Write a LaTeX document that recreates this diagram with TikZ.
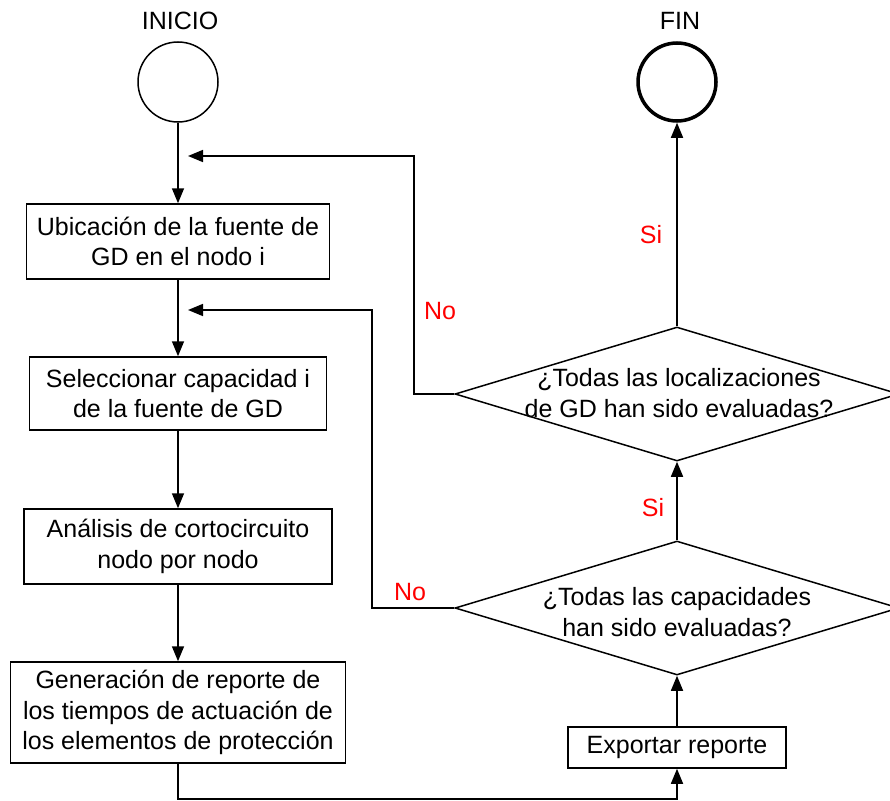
\documentclass[tikz,border=0pt]{standalone}
\usepackage{fontspec}
\setmainfont{Liberation Sans}
\usetikzlibrary{arrows.meta,shapes.geometric,calc}
\tikzset{
  procbox/.style={draw, line width=1.5pt, inner sep=0pt},
  txt/.style={font=\fontsize{25}{30.5}\selectfont, align=center, inner sep=0pt},
  redtxt/.style={font=\fontsize{25}{30}\selectfont, text=red, inner sep=0pt},
  flow/.style={line width=1.6pt, -{Triangle[length=15pt,width=12pt]}},
  decbox/.style={draw, diamond, line width=1.5pt, minimum width=444pt, minimum height=134pt, inner sep=0pt},
}
\begin{document}
\begin{tikzpicture}[x=1pt,y=-1pt]
\useasboundingbox (0,0) rectangle (890,800);
% start / end
\node[txt] (tIni) at (180,21) {INICIO};
\node[txt] (tFin) at (680,21) {FIN};
\node[draw, circle, line width=1.5pt, minimum size=80pt, inner sep=0pt] (ini) at (178,82) {};
\node[draw, circle, line width=3.5pt, minimum size=78pt, inner sep=0pt] (fin) at (677,82) {};
% process boxes
\node[procbox, minimum width=303pt, minimum height=75pt] (b1) at (178,241.5) {};
\node[txt] (b1t) at (b1.center) {Ubicación de la fuente de\\GD en el nodo i};
\node[procbox, minimum width=297pt, minimum height=73pt] (b2) at (178,393.5) {};
\node[txt] (b2t) at (b2.center) {Seleccionar capacidad i\\de la fuente de GD};
\node[procbox, minimum width=308pt, minimum height=75pt] (b3) at (178,546.5) {};
\node[txt] (b3t) at (b3.center) {Análisis de cortocircuito\\nodo por nodo};
\node[procbox, minimum width=335pt, minimum height=101pt] (b4) at (178,712.5) {};
\node[txt] (b4t) at (b4.center) {Generación de reporte de\\los tiempos de actuación de\\los elementos de protección};
\node[procbox, minimum width=218pt, minimum height=41pt] (b5) at (677,747.5) {};
\node[txt] (b5t) at (b5.center) {Exportar reporte};
% decisions
\node[decbox] (d1) at (677,394) {};
\node[txt] (d1t) at (679,393) {¿Todas las localizaciones\\de GD han sido evaluadas?};
\node[decbox] (d2) at (677,608) {};
\node[txt] (d2t) at (677,612) {¿Todas las capacidades\\han sido evaluadas?};
% join points on the left column
\coordinate (j1) at (188,156);
\coordinate (j2) at (188,310);
\coordinate (bot) at (178,799);
% main flow
\draw[flow] (ini) -- (b1);
\draw[flow] (b1) -- (b2);
\draw[flow] (b2) -- (b3);
\draw[flow] (b3) -- (b4);
\draw[flow] (b4.south) -- (bot) -| (b5.south);
\draw[flow] (b5) -- (d2.south);
\draw[flow] (d2.north) -- node[redtxt, left=12pt, pos=0.42] (si2) {Si} (d1.south);
\draw[flow] (d1.north) -- node[redtxt, left=14pt, pos=0.45] (si1) {Si} (fin);
% feedback loops
\draw[flow] (d1.west) -- ++(-40,0) |- (j1);
\draw[flow] (d2.west) -- ++(-82,0) |- (j2);
\node[redtxt] (no1) at (440,311) {No};
\node[redtxt] (no2) at (410,592) {No};
\end{tikzpicture}
\end{document}
